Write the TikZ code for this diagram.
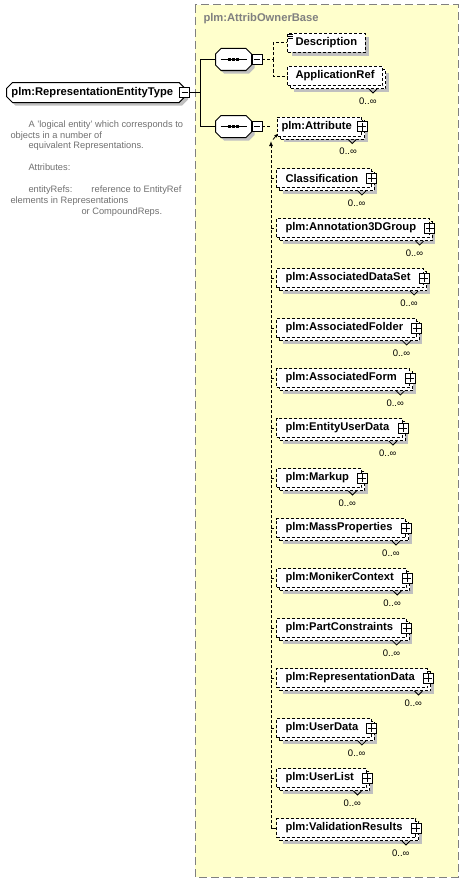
\documentclass[tikz,border=0pt]{standalone}
\usepackage{fontspec}
\setmainfont{Liberation Sans}
\usetikzlibrary{shapes.misc,shadows,arrows.meta}

\definecolor{groupyellow}{RGB}{255,255,204}
\definecolor{groupgray}{RGB}{128,128,128}
\definecolor{docgray}{RGB}{112,112,112}
\definecolor{shadegray}{RGB}{192,192,192}

\newcommand{\elemfont}{\fontsize{11.2}{13}\selectfont\bfseries}

\begin{document}
\begin{tikzpicture}[x=1pt, y=-1pt, line width=1pt,
  rootbox/.style={chamfered rectangle, chamfered rectangle xsep=3pt,
                  chamfered rectangle ysep=3pt, draw, fill=white,
                  font=\elemfont, inner xsep=2pt, inner ysep=0pt,
                  minimum height=20pt, anchor=west,
                  drop shadow={shadow xshift=3pt, shadow yshift=-3pt,
                               fill=shadegray, opacity=1}},
  seqbox/.style={rectangle, minimum width=35pt, minimum height=21pt,
                 inner sep=0pt, anchor=west},
  seqshape/.style={draw, fill=white,
                   preaction={fill=shadegray,
                              transform canvas={shift={(3pt,-3pt)}}}},
  elem/.style={rectangle, draw, dash pattern=on 3pt off 2pt, fill=white,
               font=\elemfont, minimum height=19pt, inner xsep=8pt,
               inner ysep=0pt, anchor=west},
  single/.style={elem, drop shadow={shadow xshift=4pt, shadow yshift=-4pt,
                                    fill=shadegray, opacity=1}},
  multi/.style={elem, drop shadow={shadow xshift=6pt, shadow yshift=-6pt,
                                   fill=shadegray, opacity=1},
                copy shadow={shadow xshift=3pt, shadow yshift=-3pt,
                             draw=black, fill=white,
                             dash pattern=on 3pt off 2pt}},
  plusbox/.style={rectangle, draw, solid, fill=white, line width=0.8pt,
                  minimum size=10pt, inner sep=0pt,
                  path picture={
                    \draw ([xshift=1pt]path picture bounding box.west)
                      -- ([xshift=-1pt]path picture bounding box.east);
                    \draw ([yshift=-1pt]path picture bounding box.north)
                      -- ([yshift=1pt]path picture bounding box.south);
                  }},
  minusbox/.style={rectangle, draw, solid, fill=white, line width=0.8pt,
                   minimum size=10pt, inner sep=0pt,
                   path picture={
                     \draw ([xshift=2pt]path picture bounding box.west)
                       -- ([xshift=-2pt]path picture bounding box.east);
                   }},
  mult/.style={font=\fontsize{9.5}{11}\selectfont, inner sep=0pt, anchor=east},
  notch/.style={solid, line width=0.8pt},
  conn/.style={dash pattern=on 3pt off 2pt},
  doc/.style={text=docgray, font=\fontsize{9.3}{10.85}\selectfont,
              align=left, inner sep=0pt, anchor=north west}
]
  \useasboundingbox (0,0) rectangle (464,883);

  % attribute group frame
  \draw[groupgray, dash pattern=on 8pt off 4pt, fill=groupyellow]
    (195,5) rectangle (458,877);
  \node[text=groupgray, font=\elemfont, anchor=west, inner sep=0pt]
    (gtitle) at (203,19) {plm:AttribOwnerBase};

  % complex type and its documentation
  \node[rootbox] (root) at (6,92.5) {plm:RepresentationEntityType\hspace*{7pt}};
  \node[minusbox] (rm) at ([xshift=-1pt]root.east) {};
  \node[doc] (doc) at (10,120) {%
    \hspace*{18pt}A 'logical entity' which corresponds to\\
    objects in a number of\\
    \hspace*{18pt}equivalent Representations.\\[10.85pt]
    \hspace*{18pt}Attributes:\\[10.85pt]
    \hspace*{18pt}\makebox[63pt][l]{entityRefs:}reference to EntityRef\\
    elements in Representations\\
    \hspace*{71pt}or CompoundReps.};

  % sequences
  \node[seqbox] (seq1) at (215.5,59.5) {};
  \node[seqbox] (seq2) at (215.5,126.5) {};
  \foreach \s in {seq1,seq2} {
    \path[seqshape] ([xshift=5.5pt]\s.north west) -- ([xshift=-5.5pt]\s.north east)
      -- ([yshift=-5.5pt]\s.north east) -- ([yshift=5.5pt]\s.south east)
      -- ([xshift=-5.5pt]\s.south east) -- ([xshift=5.5pt]\s.south west)
      -- ([yshift=5.5pt]\s.south west) -- ([yshift=-5.5pt]\s.north west)
      -- cycle;
    \draw ([xshift=5pt]\s.west) -- ([xshift=-5pt]\s.east);
    \foreach \d in {-4,0,4}
      \fill ([xshift=\d pt]\s.center) +(-1.4,-1.4) rectangle +(1.4,1.4);
  }
  \node[minusbox, anchor=west] (sm1) at (seq1.east) {};
  \node[minusbox, anchor=west] (sm2) at (seq2.east) {};
  \draw (rm.east) -- ++(10.5,0) coordinate (j0) |- (seq1.west);
  \draw (j0) |- (seq2.west);

  % first sequence
  \node[single] (desc) at (287,43) {Description};
  \draw[line width=0.7pt]
    ([shift={(0.5,1.5)}]desc.north west) -- ++(5,0)
    ([shift={(0.5,3.3)}]desc.north west) -- ++(5,0)
    ([shift={(0.5,5.1)}]desc.north west) -- ++(5,0);
  \node[multi] (appref) at (287,76) {ApplicationRef};
  \draw[notch] ([shift={(-14,3)}]appref.south east) -- ++(4,4) -- ++(4,-4);
  \node[mult] (appmult) at ([shift={(-6,15)}]appref.south east) {0..∞};
  \draw[conn] (sm1.east) -- ++(11,0) coordinate (j1) |- (desc.west);
  \draw[conn] (j1) |- (appref.west);

  % second sequence: substitution group of plm:Attribute
  \coordinate (sub) at (271,141);
  \node[multi, inner xsep=4pt] (attr) at (277,126.5)
    {plm:Attribute\hspace*{6pt}};
  \node[plusbox] (pattr) at (attr.east) {};
  \draw[notch] ([shift={(-14,3)}]attr.south east) -- ++(4,4) -- ++(4,-4);
  \node[mult] (attrmult) at ([shift={(-5,15)}]attr.south east) {0..∞};
  \draw[conn] (sm2.east) -- (sm2.east -| sub);
  \draw[-{Latex[length=4pt,width=3.5pt]}, line width=0.8pt]
    ([shift={(-4,3)}]attr.south west) -- ([shift={(1,-3)}]attr.south west);

  \foreach \name [count=\i] in {Classification, plm:Annotation3DGroup,
      plm:AssociatedDataSet, plm:AssociatedFolder, plm:AssociatedForm,
      plm:EntityUserData, plm:Markup, plm:MassProperties,
      plm:MonikerContext, plm:PartConstraints, plm:RepresentationData,
      plm:UserData, plm:UserList, plm:ValidationResults} {
    \node[multi] (m\i) at (276,128+50*\i) {\hspace*{1pt}\name\hspace*{5pt}};
    \node[plusbox] (p\i) at (m\i.east) {};
    \draw[notch] ([shift={(-14,3)}]m\i.south east) -- ++(4,4) -- ++(4,-4);
    \node[mult] (n\i) at ([shift={(-6,15)}]m\i.south east) {0..∞};
    \draw[conn] (m\i.west -| sub) -- (m\i.west);
  }
  \draw[conn, -{Latex[length=5pt,width=4pt]}] (m14.west) -| (sub);
\end{tikzpicture}
\end{document}
